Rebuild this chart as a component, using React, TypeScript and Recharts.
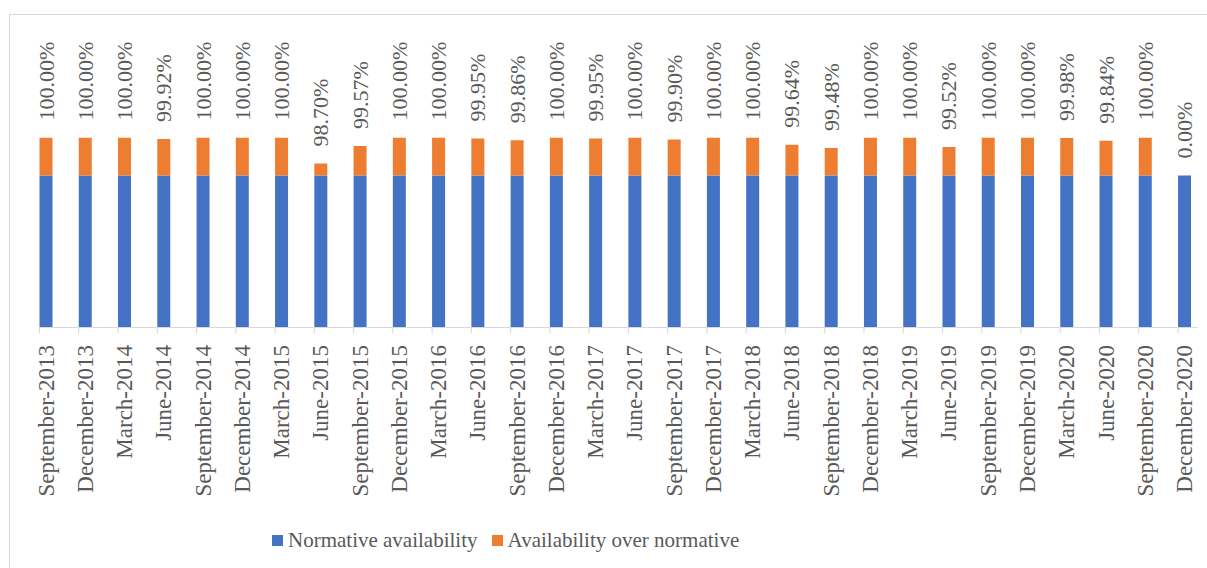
import React from 'react';
import { BarChart, Bar, XAxis, YAxis, LabelList } from 'recharts';

const categories = [
  'September-2013', 'December-2013', 'March-2014', 'June-2014', 'September-2014', 'December-2014',
  'March-2015', 'June-2015', 'September-2015', 'December-2015', 'March-2016', 'June-2016',
  'September-2016', 'December-2016', 'March-2017', 'June-2017', 'September-2017', 'December-2017',
  'March-2018', 'June-2018', 'September-2018', 'December-2018', 'March-2019', 'June-2019',
  'September-2019', 'December-2019', 'March-2020', 'June-2020', 'September-2020', 'December-2020',
];

const normativeAvailability = [
  98.1, 98.1, 98.1, 98.1, 98.1, 98.1, 98.1, 98.1, 98.1, 98.1,
  98.1, 98.1, 98.1, 98.1, 98.1, 98.1, 98.1, 98.1, 98.1, 98.1,
  98.1, 98.1, 98.1, 98.1, 98.1, 98.1, 98.1, 98.1, 98.1, 98.1,
];

const availabilityOverNormative = [
  1.9, 1.9, 1.9, 1.82, 1.9, 1.9, 1.9, 0.6, 1.47, 1.9,
  1.9, 1.85, 1.76, 1.9, 1.85, 1.9, 1.8, 1.9, 1.9, 1.54,
  1.38, 1.9, 1.9, 1.42, 1.9, 1.9, 1.88, 1.74, 1.9, 0,
];

const totalLabels = [
  '100.00%', '100.00%', '100.00%', '99.92%', '100.00%', '100.00%', '100.00%', '98.70%', '99.57%', '100.00%',
  '100.00%', '99.95%', '99.86%', '100.00%', '99.95%', '100.00%', '99.90%', '100.00%', '100.00%', '99.64%',
  '99.48%', '100.00%', '100.00%', '99.52%', '100.00%', '100.00%', '99.98%', '99.84%', '100.00%', '0.00%',
];

const seriesNames = ['Normative availability', 'Availability over normative'];

const Y_DOMAIN: [number, number] = [90.5, 100];

const data = categories.map((quarter, i) => ({
  quarter,
  normative: normativeAvailability[i],
  over: availabilityOverNormative[i],
  label: totalLabels[i],
}));

const FONT = '"Liberation Serif", "Times New Roman", serif';
const TEXT = '#595959';
const LINE = '#d9d9d9';
const BLUE = '#4472C4';
const ORANGE = '#ED7D31';

const CHART_W = 1260;
const CHART_H = 568;
const BAR = 13;
const MARGIN = { top: 137.5, right: 42.7, left: 39.5, bottom: 100.5 };

const QuarterTick = (props: any) => {
  const { x, y, payload } = props;
  const half = payload && typeof payload.offset === 'number' ? payload.offset : 19.63;
  const left = x - half;
  const cx = left + BAR / 2;
  const ty = y + 17.5;
  return (
    <g>
      <line x1={left} x2={left} y1={y} y2={y + 6} stroke={LINE} strokeWidth={1} />
      <text
        x={cx}
        y={ty}
        transform={`rotate(-90 ${cx} ${ty})`}
        textAnchor="end"
        dominantBaseline="central"
        fontFamily={FONT}
        fontSize={23}
        fill={TEXT}
      >
        {payload.value}
      </text>
    </g>
  );
};

// Label placed on the normative bar, lifted by the stacked "over" segment using the bar's own px-per-unit
const TotalLabel = (props: any) => {
  const { x, y, width, height, value, index } = props;
  const entry = data[index];
  const span = entry ? entry.normative - Y_DOMAIN[0] : 0;
  const pxPerUnit = span > 0 ? height / span : 0;
  const top = y - (entry ? entry.over * pxPerUnit : 0);
  const cx = x + width / 2;
  const ty = top - 17;
  return (
    <text
      x={cx}
      y={ty}
      transform={`rotate(-90 ${cx} ${ty})`}
      textAnchor="start"
      dominantBaseline="central"
      fontFamily={FONT}
      fontSize={22}
      fill={TEXT}
    >
      {value}
    </text>
  );
};

const LegendBox = () => (
  <div
    style={{
      position: 'absolute', left: 272, top: 529, display: 'flex', alignItems: 'center',
      fontFamily: FONT, fontSize: 21, color: TEXT, whiteSpace: 'nowrap',
    }}
  >
    {seriesNames.map((name, i) => (
      <div key={name} style={{ display: 'flex', alignItems: 'center', marginRight: i === 0 ? 14 : 0 }}>
        <span style={{ display: 'inline-block', width: 11, height: 11, background: i === 0 ? BLUE : ORANGE, marginRight: 5 }} />
        <span style={{ lineHeight: '22px' }}>{name}</span>
      </div>
    ))}
  </div>
);

export default function App() {
  return (
    <div style={{ position: 'absolute', left: 0, top: 0, width: 1207, height: 568, overflow: 'hidden', background: '#fff' }}>
      <div style={{ position: 'absolute', left: 9, top: 14, width: 1400, height: 700, border: `1px solid ${LINE}` }} />
      <div style={{ position: 'absolute', left: 0, top: 0, width: 1197, height: 568, overflow: 'hidden' }}>
        <BarChart width={CHART_W} height={CHART_H} data={data} margin={MARGIN} barSize={BAR} barGap={13}>
          <XAxis
            dataKey="quarter"
            interval={0}
            height={140}
            tickLine={false}
            tickSize={0}
            tickMargin={0}
            axisLine={{ stroke: LINE, strokeWidth: 1 }}
            tick={<QuarterTick />}
          />
          <YAxis hide domain={Y_DOMAIN} allowDataOverflow />
          <Bar dataKey="normative" name={seriesNames[0]} stackId="a" fill={BLUE} isAnimationActive={false}>
            <LabelList dataKey="label" content={<TotalLabel />} />
          </Bar>
          <Bar dataKey="over" name={seriesNames[1]} stackId="a" fill={ORANGE} isAnimationActive={false} />
          <Bar dataKey="normative" stackId="spacer" fill="none" legendType="none" isAnimationActive={false} />
        </BarChart>
      </div>
      <LegendBox />
    </div>
  );
}
